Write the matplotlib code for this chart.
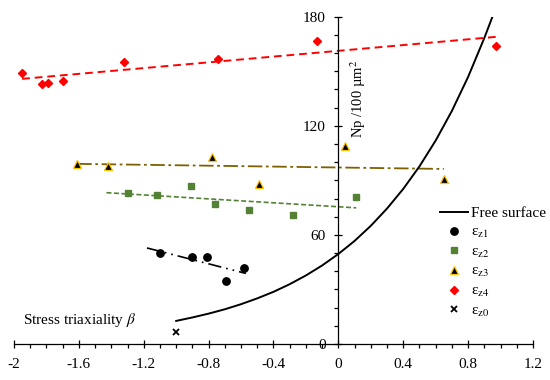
import matplotlib.pyplot as plt
import numpy as np
from matplotlib.lines import Line2D

plt.rcParams['font.family'] = ['Liberation Serif', 'DejaVu Serif']
plt.rcParams['mathtext.fontset'] = 'stix'

# free surface curve
surf_x = [-1.0, -0.9, -0.8, -0.7, -0.6, -0.5, -0.4, -0.3, -0.2, -0.1, 0.0,
          0.1, 0.2, 0.3, 0.4, 0.5, 0.6, 0.7, 0.8, 0.9, 0.95]
surf_y = [12.7, 14.6, 16.7, 19.1, 21.9, 25.1, 28.7, 32.9, 37.7, 43.2, 49.5,
          56.7, 65.0, 74.5, 85.3, 97.7, 111.9, 128.2, 146.9, 168.3, 180.0]

ez1_x = [-1.10, -0.90, -0.81, -0.69, -0.58]
ez1_y = [49.9, 47.9, 47.9, 34.8, 41.8]
ez2_x = [-1.30, -1.12, -0.91, -0.76, -0.55, -0.28, 0.11]
ez2_y = [82.9, 81.8, 87.1, 77.0, 73.9, 70.8, 80.9]
ez3_x = [-1.61, -1.42, -0.78, -0.49, 0.04, 0.65]
ez3_y = [98.8, 97.7, 102.9, 87.8, 108.9, 90.8]
ez4_x = [-1.95, -1.83, -1.79, -1.70, -1.32, -0.74, -0.13, 0.97]
ez4_y = [148.9, 142.8, 143.7, 144.8, 155.0, 156.8, 166.8, 163.9]
ez0_x = [-1.0]
ez0_y = [6.8]

# x span of each linear trend line
fit_span = {
    'ez1': (-1.18, -0.57),
    'ez2': (-1.43, 0.11),
    'ez3': (-1.61, 0.65),
    'ez4': (-1.95, 0.98),
}

fig = plt.figure(figsize=(5.5, 3.8), dpi=100)
ax = fig.add_axes([14 / 550, 1 - 344 / 380, 519 / 550, (344 - 16.7) / 380])


def trend(x, y, span, **kw):
    k, b = np.polyfit(x, y, 1)
    xs = np.array(span)
    ax.plot(xs, k * xs + b, **kw)


trend(ez4_x, ez4_y, fit_span['ez4'], color='#FF0000', lw=1.4, dashes=(4, 2.5))
trend(ez3_x, ez3_y, fit_span['ez3'], color='#7F6000', lw=1.3, dashes=(8, 2, 1.5, 2))
trend(ez2_x, ez2_y, fit_span['ez2'], color='#548235', lw=1.2, dashes=(3, 1.5))
trend(ez1_x, ez1_y, fit_span['ez1'], color='black', lw=1.2, dashes=(8, 3, 1, 3, 1, 3))

ax.plot(surf_x, surf_y, color='black', lw=1.4)

tri = dict(marker='^', mfc='black', mec='#FFC000', mew=0.9, ms=6, ls='none')
ax.plot(ez1_x, ez1_y, 'o', color='black', ms=5.3, ls='none')
ax.plot(ez2_x, ez2_y, 's', color='#548235', ms=5, ls='none')
ax.plot(ez3_x, ez3_y, **tri)
ax.plot(ez4_x, ez4_y, 'D', color='#FF0000', ms=4.5, ls='none')
ax.plot(ez0_x, ez0_y, 'x', color='black', ms=4, mew=1.3, ls='none')

ax.set_xlim(-2, 1.2)
ax.set_ylim(0, 180)
ax.spines['top'].set_visible(False)
ax.spines['right'].set_visible(False)
ax.spines['left'].set_position(('data', 0))
for s in ('left', 'bottom'):
    ax.spines[s].set_linewidth(0.9)

ax.set_xticks(np.arange(-2, 1.21, 0.4))
ax.set_xticklabels(['-2', '-1.6', '-1.2', '-0.8', '-0.4', '0', '0.4', '0.8', '1.2'])
ax.set_xticks(np.arange(-2, 1.21, 0.1), minor=True)
ax.set_yticks([0, 60, 120, 180])
ax.set_yticks(np.arange(0, 181, 10), minor=True)
ax.tick_params(which='major', direction='inout', length=6, width=0.9, labelsize=11)
ax.tick_params(which='minor', direction='out', length=2.8, width=0.9)
ax.tick_params(axis='x', which='major', pad=7)
ax.tick_params(axis='y', which='major', pad=6)

ax.text(0.12, 135, 'Np /100 µm$^2$', rotation=90, ha='center', va='center', fontsize=10.5)
ax.text(-1.946, 13.2, r'Stress triaxiality $\beta$', ha='left', va='center', fontsize=11)

handles = [
    Line2D([], [], color='black', lw=1.4),
    Line2D([], [], marker='o', color='black', ms=5.3, ls='none'),
    Line2D([], [], marker='s', color='#548235', ms=5, ls='none'),
    Line2D([], [], **tri),
    Line2D([], [], marker='D', color='#FF0000', ms=4.5, ls='none'),
    Line2D([], [], marker='x', color='black', ms=4, mew=1.3, ls='none'),
]
labels = ['Free surface', r'ε$_{\mathrm{z1}}$', r'ε$_{\mathrm{z2}}$', r'ε$_{\mathrm{z3}}$',
          r'ε$_{\mathrm{z4}}$', r'ε$_{\mathrm{z0}}$']
ax.legend(handles, labels, loc='upper left', bbox_to_anchor=(429 / 550, 1 - 196 / 380),
          bbox_transform=fig.transFigure, frameon=False, fontsize=11,
          handlelength=1.85, handletextpad=0.2, labelspacing=0.32, borderpad=0.2)

fig.savefig('out.png', dpi=100)
